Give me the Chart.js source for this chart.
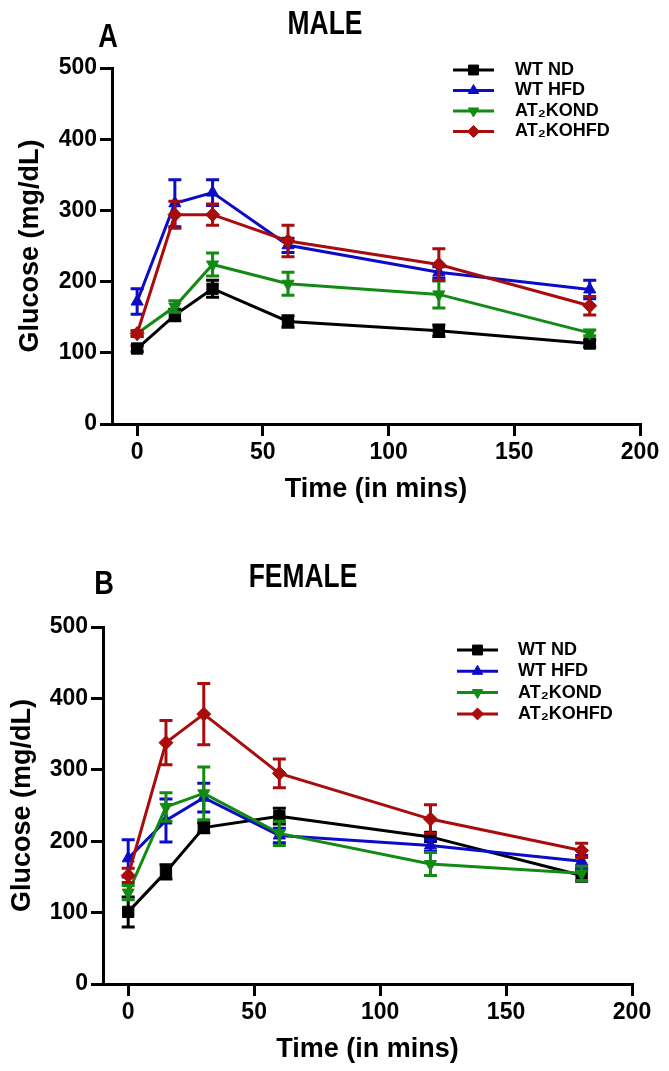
<!DOCTYPE html>
<html>
<head>
<meta charset="utf-8">
<script src="https://cdn.jsdelivr.net/npm/chart.js@4.4.0/dist/chart.umd.min.js"></script>
<style>
  html, body { margin: 0; padding: 0; background: #fff; }
  #page { position: relative; width: 669px; height: 1071px; overflow: hidden; }
  canvas { position: absolute; left: 0; }
  .lbl {
    position: absolute;
    font-family: 'Liberation Sans', Arial, sans-serif;
    font-weight: bold;
    color: #000;
    line-height: 1;
    white-space: nowrap;
    transform: translate(-50%, -50%) scaleX(0.8);
  }
</style>
</head>
<body>
<div id="page">
  <canvas id="male" width="669" height="535" style="top:0"></canvas>
  <canvas id="female" width="669" height="536" style="top:535px"></canvas>
  <div class="lbl" style="left:108px;top:35px;font-size:34px">A</div>
  <div class="lbl" style="left:325px;top:22px;font-size:33px">MALE</div>
  <div class="lbl" style="left:104px;top:582px;font-size:34px">B</div>
  <div class="lbl" style="left:303px;top:575px;font-size:33px">FEMALE</div>
</div>
<script>
// values (glucose mg/dL, mean and error)
const times = [0, 15, 30, 60, 120, 180];
const xTicks = [0, 50, 100, 150, 200];
const yTicks = [0, 100, 200, 300, 400, 500];
const seriesNames = ['WT ND', 'WT HFD', 'AT\u2082KOND', 'AT\u2082KOHFD'];

const maleWtNd = [106, 153, 190, 144, 131, 113];
const maleWtNdErr = [4, 8, 12, 8, 8, 5];
const maleWtHfd = [172, 310, 325, 251, 213, 189];
const maleWtHfdErr = [18, 33, 18, 10, 8, 13];
const maleKoNd = [127, 165, 224, 197, 182, 128];
const maleKoNdErr = [4, 8, 16, 16, 19, 4];
const maleKoHfd = [127, 294, 294, 257, 224, 166];
const maleKoHfdErr = [4, 19, 15, 22, 22, 13];

const femaleWtNd = [101, 157, 219, 235, 206, 152];
const femaleWtNdErr = [21, 10, 7, 11, 6, 8];
const femaleWtHfd = [176, 229, 261, 208, 194, 172];
const femaleWtHfdErr = [26, 30, 20, 10, 8, 8];
const femaleKoNd = [128, 248, 267, 211, 168, 155];
const femaleKoNdErr = [10, 20, 37, 17, 16, 10];
const femaleKoHfd = [152, 338, 378, 295, 231, 187];
const femaleKoHfdErr = [10, 31, 43, 20, 20, 10];

const colors = ['#000000', '#0c0cc8', '#138a13', '#a80c0c'];
const markers = [
  { style: 'rect', radius: 8, rotation: 0 },
  { style: 'triangle', radius: 7, rotation: 0 },
  { style: 'triangle', radius: 7, rotation: 180 },
  { style: 'rectRot', radius: 7, rotation: 0 }
];

const plainFont = "'Liberation Sans', Arial, sans-serif";

// vertical error bars with caps, drawn right after each dataset
const errorBars = {
  id: 'errorBars',
  afterDatasetDraw(chart, args) {
    const ds = chart.data.datasets[args.index];
    const ys = chart.scales.y;
    const ctx = chart.ctx;
    ctx.save();
    ctx.strokeStyle = ds.borderColor;
    ctx.lineWidth = 3;
    args.meta.data.forEach((pt, i) => {
      const v = ds.data[i].y;
      const e = ds.errors[i];
      const top = ys.getPixelForValue(v + e);
      const bot = ys.getPixelForValue(v - e);
      ctx.beginPath();
      ctx.moveTo(pt.x, top); ctx.lineTo(pt.x, bot);
      ctx.moveTo(pt.x - 6.5, top); ctx.lineTo(pt.x + 6.5, top);
      ctx.moveTo(pt.x - 6.5, bot); ctx.lineTo(pt.x + 6.5, bot);
      ctx.stroke();
    });
    ctx.restore();
  }
};

// Prism-style key: line sample with marker in the middle
const seriesKey = {
  id: 'seriesKey',
  afterDraw(chart, args, opts) {
    const ctx = chart.ctx;
    ctx.save();
    chart.data.datasets.forEach((ds, i) => {
      const y = opts.y + i * opts.row;
      ctx.strokeStyle = ds.borderColor;
      ctx.fillStyle = ds.backgroundColor;
      ctx.lineWidth = 3;
      ctx.beginPath();
      ctx.moveTo(opts.x, y);
      ctx.lineTo(opts.x + 41, y);
      ctx.stroke();
      ctx.lineWidth = 1;
      Chart.helpers.drawPoint(ctx, {
        pointStyle: ds.pointStyle,
        rotation: ds.pointRotation,
        radius: ds.pointRadius - 1,
        borderWidth: 1
      }, opts.x + 20.5, y);
      ctx.fillStyle = '#000';
      ctx.font = 'bold 18px ' + plainFont;
      ctx.textBaseline = 'middle';
      ctx.textAlign = 'left';
      ctx.fillText(ds.label, opts.x + opts.textGap, y);
    });
    ctx.restore();
  }
};

function makeDatasets(values, errors) {
  return values.map((vals, k) => ({
    label: seriesNames[k],
    data: times.map((t, i) => ({ x: t, y: vals[i] })),
    errors: errors[k],
    borderColor: colors[k],
    backgroundColor: colors[k],
    borderWidth: 3,
    pointStyle: markers[k].style,
    pointRadius: markers[k].radius,
    pointRotation: markers[k].rotation,
    pointBorderWidth: 1,
    tension: 0,
    order: 4 - k
  }));
}

function axisStyle() {
  return {
    grid: { drawOnChartArea: false, color: '#000', lineWidth: 3, tickLength: 12 },
    border: { display: true, color: '#000', width: 3 }
  };
}

function makePanel(id, datasets, box) {
  const xAxis = axisStyle();
  const yAxis = axisStyle();
  return new Chart(document.getElementById(id), {
    type: 'line',
    data: { datasets: datasets },
    options: {
      responsive: false,
      animation: false,
      devicePixelRatio: 1,
      layout: { padding: box.padding },
      plugins: {
        legend: { display: false },
        tooltip: { enabled: false },
        seriesKey: box.key
      },
      scales: {
        x: Object.assign(xAxis, {
          type: 'linear',
          min: -10,
          max: 200,
          afterBuildTicks: s => { s.ticks = xTicks.map(v => ({ value: v })); },
          afterFit: s => { s.height = box.xHeight; },
          ticks: { color: '#000', padding: 3, font: { family: plainFont, size: 23, weight: 'bold' } },
          title: {
            display: true, text: 'Time (in mins)', color: '#000', padding: 0,
            font: { family: plainFont, size: 27, weight: 'bold' }
          }
        }),
        y: Object.assign(yAxis, {
          type: 'linear',
          min: 0,
          max: 500,
          afterBuildTicks: s => { s.ticks = yTicks.map(v => ({ value: v })); },
          afterFit: s => { s.width = box.yWidth; },
          ticks: { color: '#000', padding: 3, font: { family: plainFont, size: 23, weight: 'bold' } },
          title: {
            display: true, text: 'Glucose (mg/dL)', color: '#000', padding: 0,
            font: { family: plainFont, size: 27, weight: 'bold' }
          }
        })
      }
    },
    plugins: [errorBars, seriesKey]
  });
}

makePanel('male',
  makeDatasets([maleWtNd, maleWtHfd, maleKoNd, maleKoHfd],
               [maleWtNdErr, maleWtHfdErr, maleKoNdErr, maleKoHfdErr]),
  {
    padding: { left: 14, right: 29, top: 68, bottom: 29 },
    yWidth: 98,
    xHeight: 82,
    key: { x: 453, y: 70, row: 20.5, textGap: 62 }
  });

makePanel('female',
  makeDatasets([femaleWtNd, femaleWtHfd, femaleKoNd, femaleKoHfd],
               [femaleWtNdErr, femaleWtHfdErr, femaleKoNdErr, femaleKoHfdErr]),
  {
    padding: { left: 6, right: 37, top: 92, bottom: 5 },
    yWidth: 97,
    xHeight: 82,
    key: { x: 457, y: 115, row: 21.3, textGap: 61 }
  });
</script>
</body>
</html>
